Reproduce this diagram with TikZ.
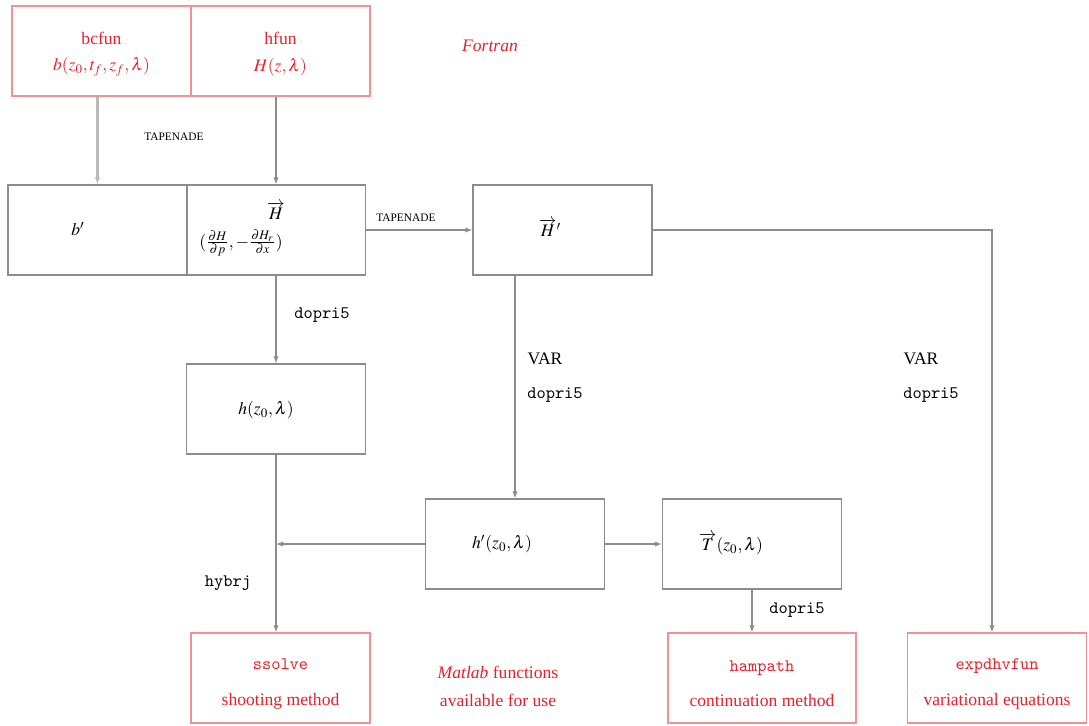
\documentclass[tikz,border=0pt]{standalone}
\usepackage{amsmath}
\usepackage{mathptmx}
\usepackage[no-math]{fontspec}
\setmainfont{Liberation Serif}
\usetikzlibrary{arrows.meta}
\definecolor{FigRed}{HTML}{E8202A}
\definecolor{FigPink}{HTML}{F29097}
\definecolor{FigGray}{HTML}{8C8C8C}
\tikzset{
  box/.style={draw=FigGray, line width=0.7pt, minimum width=3.58cm, minimum height=1.8cm, inner sep=0pt},
  redbox/.style={box, draw=FigPink, text=FigRed, align=center},
  arr/.style={draw=FigGray, line width=0.6pt, -{Latex[length=4pt,width=3pt]}},
  tapenade/.style={font=\fontsize{6.5}{8}\selectfont},
  redtext/.style={text=FigRed, align=center}
}
\begin{document}
\begin{tikzpicture}[x=0.02cm,y=-0.02cm]
    \useasboundingbox (0,0) rectangle (1089,725);

    \node[redbox] (bcfun) at (101.5,51) {\rule{0pt}{10.5pt}bcfun\\[3pt] $b(z_0,t_f,z_f,\lambda)$};
    \node[redbox] (hfun) at (280.5,51) {\rule{0pt}{10.5pt}hfun\\[3pt] $H(z,\lambda)$};
    \node[redtext] (fortran) at (490,46) {\textit{Fortran}};

    \node[box] (bp) at (97.5,230) {};
    \node (bplab) at (78,229) {$b'$};
    \node[box] (Hv) at (276,230) {};
    \node (Hlab) at (276,211) {$\overrightarrow{H}$};
    \node (Hder) at (241,243) {$(\frac{\partial H}{\partial p},-\frac{\partial H_r}{\partial x})$};
    \node[box] (Hp) at (562.5,230) {};
    \node (Hplab) at (550,228) {$\overrightarrow{H}'$};

    \node[box] (hz) at (276,409) {};
    \node (hzlab) at (266,410) {$h(z_0,\lambda)$};
    \node[box] (hp) at (515,544) {};
    \node (hplab) at (502,544) {$h'(z_0,\lambda)$};
    \node[box] (Tv) at (752,544) {};
    \node (Tlab) at (731,544) {$\overrightarrow{T}(z_0,\lambda)$};

    \node[redbox] (ss) at (280.5,678) {\rule{0pt}{13pt}\texttt{ssolve}\\[8pt] shooting method};
    \node[redbox, minimum width=3.76cm] (ham) at (762,678) {\rule{0pt}{13pt}\texttt{hampath}\\[8pt] continuation method};
    \node[redbox] (expd) at (997,678) {\rule{0pt}{13pt}\texttt{expdhvfun}\\[8pt] variational equations};
    \node[redtext] (matlab) at (498,686) {\textit{Matlab} functions\\[4pt] available for use};

    \draw[arr, line width=1.3pt, draw=FigGray!60] (bp.north |- bcfun.south) -- (bp.north);
    \draw[arr] (Hv.north |- hfun.south) -- (Hv.north);
    \node[tapenade] (tap1) at (174,137) {TAPENADE};

    \draw[arr] (Hv.east) -- (Hp.west);
    \node[tapenade] (tap2) at (406,218) {TAPENADE};

    \draw[arr] (Hv.south) -- (hz.north);
    \node (dop1) at (322,315) {\texttt{dopri5}};

    \draw[arr] (hp.north |- Hp.south) -- (hp.north);
    \node (var1) at (545,359) {VAR};
    \node (dop2) at (555,395) {\texttt{dopri5}};

    \draw[arr] (Hp.east) -| ([xshift=-0.1cm]expd.north);
    \node (var2) at (921,359) {VAR};
    \node (dop3) at (931,395) {\texttt{dopri5}};

    \draw[arr] (hz.south) -- (hz.south |- ss.north);
    \node (hyb) at (228,583) {\texttt{hybrj}};

    \draw[arr] (hp.west) -- (hp.west -| hz.south);
    \draw[arr] (hp.east) -- (Tv.west);

    \draw[arr] (Tv.south) -- (Tv.south |- ham.north);
    \node (dop4) at (797,610) {\texttt{dopri5}};
\end{tikzpicture}
\end{document}
